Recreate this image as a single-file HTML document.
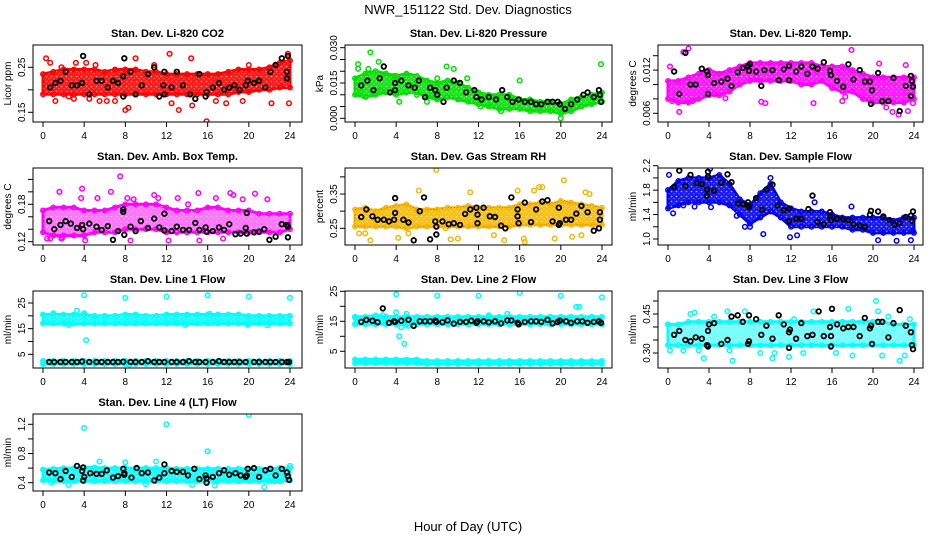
<!DOCTYPE html>
<html><head><meta charset="utf-8">
<style>
html,body{margin:0;padding:0;background:#fff;}
svg{display:block;font-family:"Liberation Sans",Arial,sans-serif;}
</style></head>
<body>
<svg id="chart" width="936" height="540" viewBox="0 0 936 540" xmlns="http://www.w3.org/2000/svg">
<defs>
<pattern id="speckle" width="5" height="5" patternUnits="userSpaceOnUse">
<circle cx="1.5" cy="1.5" r="0.8" fill="#fff" fill-opacity="0.7"/>
<circle cx="4" cy="3.8" r="0.6" fill="#fff" fill-opacity="0.5"/>
</pattern>
</defs>
<rect x="0" y="0" width="936" height="540" fill="#fff"/>
<text x="468" y="14" text-anchor="middle" font-size="13">NWR_151122  Std. Dev. Diagnostics</text>
<text x="468" y="531" text-anchor="middle" font-size="13">Hour of Day (UTC)</text>
</svg>
<script>
// ---------- data ----------
const hours = [0,1,2,3,4,5,6,7,8,9,10,11,12,13,14,15,16,17,18,19,20,21,22,23,24];
const xTicks = [0,4,8,12,16,20,24];

const co2Lo = [0.19,0.19,0.19,0.19,0.19,0.19,0.19,0.19,0.19,0.19,0.19,0.19,0.19,0.19,0.19,0.19,0.19,0.19,0.19,0.195,0.195,0.2,0.2,0.205,0.205];
const co2Hi = [0.235,0.24,0.245,0.245,0.245,0.245,0.24,0.245,0.245,0.245,0.24,0.24,0.235,0.235,0.235,0.235,0.235,0.235,0.24,0.245,0.245,0.245,0.25,0.26,0.265];
const co2Pts = [[0.3,0.27],[0.7,0.26],[1.2,0.175],[2.5,0.185],[3.2,0.26],[4.2,0.26],[4.5,0.18],[5.5,0.175],[6.2,0.175],[7,0.175],[8,0.155],[8.3,0.16],[9,0.27],[12.3,0.28],[12.5,0.17],[13.2,0.155],[14.4,0.27],[14.5,0.165],[15.9,0.13],[17.8,0.17],[19.4,0.175],[22.2,0.17],[23.8,0.28],[23.9,0.17],[10.8,0.255],[20,0.255],[5.1,0.255],[1.8,0.25],[16.8,0.175],[3,0.18]];
const co2Blk = [[0.7,0.205],[1.2,0.215],[1.7,0.22],[2.2,0.24],[2.8,0.21],[3.3,0.21],[3.8,0.215],[3.9,0.275],[4.5,0.19],[5.2,0.22],[5.7,0.22],[6.3,0.205],[6.8,0.22],[7.3,0.215],[7.8,0.23],[7.8,0.185],[7.9,0.27],[8.5,0.24],[9,0.19],[9.6,0.21],[10.2,0.235],[10.8,0.25],[11.3,0.185],[11.7,0.21],[11.8,0.24],[11.8,0.19],[12.5,0.205],[13,0.24],[13.6,0.21],[14.3,0.19],[14.8,0.18],[15.2,0.235],[15.8,0.185],[15.9,0.195],[16.5,0.205],[17.1,0.215],[17.6,0.2],[18.1,0.205],[18.6,0.21],[19.1,0.2],[19.7,0.21],[19.9,0.22],[20.5,0.215],[21,0.22],[21.6,0.205],[22.1,0.24],[22.6,0.255],[23.2,0.27],[23.7,0.24],[23.8,0.275],[23.7,0.225]];

const presLo = [0.010,0.009,0.010,0.011,0.010,0.011,0.011,0.009,0.008,0.009,0.008,0.007,0.006,0.005,0.004,0.004,0.004,0.003,0.003,0.003,0.002,0.003,0.005,0.006,0.007];
const presHi = [0.017,0.019,0.020,0.019,0.018,0.019,0.018,0.016,0.015,0.016,0.015,0.013,0.011,0.010,0.010,0.010,0.008,0.008,0.007,0.007,0.006,0.008,0.009,0.010,0.011];
const presPts = [[0.3,0.023],[0.3,0.021],[1.3,0.021],[1.5,0.028],[2.3,0.024],[3.8,0.018],[4,0.011],[4.3,0.007],[7.5,0.010],[7,0.007],[8,0.017],[8.9,0.022],[9.6,0.021],[10.9,0.017],[16,0.016],[20,0.0],[20.5,0.004],[23.9,0.023],[12.2,0.005],[14.2,0.003],[2.5,0.012],[6,0.010],[0.5,0.011]];
const presBlk = [[0.6,0.014],[1.2,0.016],[1.8,0.012],[2.4,0.017],[2.8,0.022],[3.4,0.011],[3.9,0.015],[3.9,0.012],[4.5,0.016],[5.2,0.014],[5.8,0.013],[6.2,0.016],[6.8,0.009],[7.3,0.013],[7.8,0.012],[8,0.010],[8.6,0.007],[8.9,0.013],[9.6,0.016],[10.2,0.015],[10.8,0.011],[11.6,0.012],[11.8,0.009],[12.3,0.008],[13,0.009],[13.7,0.008],[14.3,0.012],[14.8,0.009],[15.3,0.007],[15.9,0.008],[16.5,0.007],[17.1,0.007],[17.6,0.006],[18.1,0.006],[18.7,0.007],[19.2,0.007],[19.7,0.007],[19.9,0.006],[20.4,0.004],[21,0.006],[21.6,0.008],[22.2,0.010],[22.6,0.011],[23.2,0.009],[23.7,0.012],[23.8,0.010],[23.9,0.007]];

const tempLo = [0.008,0.0075,0.0075,0.008,0.0085,0.0085,0.009,0.010,0.0105,0.0105,0.0105,0.0105,0.0105,0.010,0.010,0.0105,0.0095,0.009,0.009,0.008,0.0075,0.0075,0.0075,0.0075,0.008];
const tempHi = [0.0105,0.0105,0.011,0.0115,0.012,0.0115,0.012,0.0125,0.013,0.013,0.013,0.013,0.013,0.013,0.013,0.0125,0.0125,0.0125,0.012,0.0115,0.011,0.011,0.011,0.011,0.011];
const tempPts = [[0.2,0.0125],[0.4,0.0077],[1.1,0.0062],[1.5,0.0145],[2,0.015],[2.4,0.0077],[4.5,0.0087],[5.6,0.0081],[8.6,0.011],[9.1,0.0076],[9.5,0.0074],[14.5,0.0118],[14.2,0.0074],[17,0.0077],[17.3,0.0083],[17.9,0.0148],[19.6,0.0079],[21.3,0.0068],[21.9,0.0062],[22.5,0.0058],[23.4,0.0063],[23.9,0.0074],[20.6,0.0129],[23.2,0.0127]];
const tempBlk = [[0.6,0.0118],[1.1,0.0087],[1.7,0.0144],[2.2,0.0100],[2.7,0.0100],[3.3,0.0122],[3.8,0.0118],[3.9,0.0087],[3.9,0.0113],[4.5,0.0102],[5.2,0.0104],[5.8,0.0108],[6.2,0.0098],[6.8,0.0117],[7.3,0.0123],[7.8,0.0126],[7.9,0.0119],[8,0.0128],[8.6,0.0118],[9.1,0.0098],[9.4,0.0120],[10.2,0.0120],[10.8,0.0106],[11.3,0.0121],[11.8,0.0126],[11.8,0.0106],[12.5,0.0118],[13,0.0125],[13.6,0.0115],[14.1,0.0125],[14.6,0.0122],[15.2,0.0131],[15.8,0.0119],[15.9,0.0113],[16.5,0.0105],[17.1,0.0097],[17.6,0.0128],[18.1,0.0107],[18.7,0.0120],[19.2,0.0104],[19.7,0.0104],[19.9,0.0092],[19.8,0.0073],[20.5,0.0116],[20.9,0.0077],[21.5,0.0077],[22,0.0109],[22.6,0.0063],[23.2,0.0098],[23.7,0.0112],[23.8,0.0105],[23.9,0.0097],[23.7,0.0084]];

const ambLo = [0.135,0.13,0.13,0.13,0.13,0.135,0.135,0.135,0.14,0.14,0.14,0.14,0.135,0.135,0.135,0.135,0.135,0.135,0.135,0.135,0.135,0.135,0.135,0.135,0.14];
const ambHi = [0.17,0.175,0.175,0.175,0.17,0.17,0.17,0.175,0.18,0.18,0.18,0.18,0.175,0.17,0.17,0.17,0.175,0.175,0.17,0.17,0.17,0.165,0.165,0.165,0.165];
const ambPts = [[0.4,0.125],[0.7,0.125],[1.6,0.2],[1.8,0.125],[3.8,0.205],[3.7,0.19],[4.1,0.122],[5.3,0.19],[6.6,0.2],[7.5,0.225],[8.2,0.19],[8.5,0.122],[8.8,0.188],[10.8,0.195],[11.2,0.19],[12.2,0.122],[13.1,0.19],[15.1,0.198],[15.2,0.122],[16.8,0.19],[18.2,0.198],[18.5,0.195],[19.4,0.188],[20.6,0.197],[21.8,0.188],[17.5,0.125],[1.9,0.127],[14.1,0.18]];
const ambBlk = [[0.6,0.153],[1.1,0.14],[1.7,0.147],[2.2,0.153],[2.7,0.149],[3.3,0.142],[3.8,0.147],[3.9,0.14],[4.5,0.149],[5.2,0.144],[5.7,0.139],[6.3,0.145],[6.8,0.123],[7.3,0.137],[7.8,0.168],[7.8,0.172],[7.9,0.131],[8.5,0.144],[9,0.137],[9.5,0.153],[10.2,0.142],[10.8,0.157],[11.3,0.143],[11.8,0.165],[11.8,0.138],[12.5,0.137],[13,0.144],[13.6,0.139],[14.2,0.139],[14.8,0.15],[15.2,0.139],[15.8,0.143],[15.9,0.136],[16.5,0.137],[17.1,0.143],[17.6,0.139],[18.1,0.148],[18.7,0.132],[19.2,0.133],[19.7,0.142],[19.8,0.133],[19.8,0.166],[20.5,0.135],[21,0.136],[21.5,0.14],[22,0.123],[22.6,0.128],[23.2,0.148],[23.7,0.147],[23.8,0.144],[23.8,0.127]];

const rhLo = [0.255,0.255,0.255,0.255,0.255,0.25,0.255,0.255,0.255,0.255,0.255,0.255,0.255,0.255,0.255,0.255,0.26,0.26,0.26,0.26,0.26,0.26,0.26,0.26,0.26];
const rhHi = [0.305,0.31,0.3,0.31,0.315,0.32,0.305,0.305,0.305,0.31,0.31,0.315,0.31,0.31,0.31,0.31,0.32,0.32,0.325,0.32,0.33,0.325,0.32,0.315,0.31];
const rhPts = [[0.4,0.235],[1,0.235],[1.5,0.215],[4.2,0.222],[5.2,0.235],[6.2,0.36],[7.9,0.42],[8.8,0.25],[9.3,0.218],[10,0.22],[11.2,0.355],[13.5,0.23],[14.5,0.215],[15.8,0.36],[16.4,0.22],[16.5,0.21],[17.4,0.36],[17.9,0.37],[18.2,0.37],[19.4,0.22],[20.3,0.39],[21.1,0.225],[22,0.23],[22.4,0.355],[22.8,0.35]];
const rhBlk = [[0.6,0.283],[1.1,0.305],[1.7,0.285],[2.2,0.275],[2.8,0.275],[3.3,0.27],[3.8,0.275],[3.9,0.338],[3.9,0.295],[4.7,0.275],[5.2,0.267],[5.7,0.215],[6.3,0.3],[6.7,0.34],[7.3,0.218],[7.8,0.27],[7.9,0.255],[7.9,0.232],[8.5,0.27],[9.1,0.262],[9.6,0.265],[10.2,0.26],[10.7,0.292],[11.2,0.305],[11.8,0.31],[11.9,0.265],[11.9,0.29],[12.5,0.31],[13.1,0.285],[13.6,0.283],[14.2,0.258],[14.6,0.25],[15.2,0.34],[15.8,0.305],[15.8,0.285],[15.9,0.265],[16.5,0.325],[17.1,0.268],[17.6,0.305],[18.2,0.328],[18.7,0.332],[19.2,0.27],[19.8,0.31],[19.8,0.26],[19.9,0.265],[20.5,0.275],[21,0.275],[21.5,0.293],[22,0.315],[22.6,0.297],[23.2,0.243],[23.7,0.25],[23.8,0.297],[23.8,0.275]];

const sfLo = [1.5,1.55,1.6,1.6,1.6,1.6,1.55,1.4,1.25,1.35,1.45,1.35,1.2,1.2,1.2,1.2,1.2,1.2,1.15,1.15,1.1,1.1,1.1,1.1,1.1];
const sfHi = [1.8,1.95,2.0,2.0,2.0,2.05,1.9,1.65,1.55,1.75,1.9,1.6,1.5,1.45,1.45,1.45,1.4,1.35,1.35,1.35,1.35,1.35,1.3,1.35,1.35];
const sfPts = [[0.1,2.05],[0.5,1.42],[2.6,1.53],[4.1,2.15],[5.3,2.2],[4.2,1.52],[7.5,1.2],[8,1.2],[9.3,1.08],[10,2.0],[11.9,1.03],[12.6,1.06],[17.9,1.53],[20.5,0.98],[22.3,0.97],[23.7,0.98],[23.9,1.13],[6.7,1.38],[14.3,1.6],[1.5,1.55]];
const sfBlk = [[0.6,1.85],[1.1,2.12],[1.7,1.87],[2.2,2.05],[2.8,1.91],[3.3,1.9],[3.8,1.71],[3.8,1.81],[3.9,2.02],[3.9,2.1],[4.5,1.79],[5.2,1.92],[5.8,2.06],[6.2,1.93],[6.8,1.58],[7.3,1.57],[7.8,1.55],[7.8,1.6],[7.9,1.52],[8.6,1.67],[9.2,1.48],[9.6,1.81],[10.2,1.89],[10.7,1.55],[11.3,1.47],[11.8,1.5],[11.8,1.29],[12.5,1.33],[13,1.33],[13.7,1.49],[14.1,1.71],[14.6,1.28],[15.2,1.24],[15.8,1.44],[15.8,1.37],[15.9,1.31],[16.5,1.33],[17.1,1.32],[17.6,1.31],[18.1,1.24],[18.7,1.22],[19.2,1.2],[19.7,1.4],[19.8,1.46],[20.5,1.45],[21,1.37],[21.6,1.31],[22.1,1.23],[22.6,1.26],[23.2,1.36],[23.7,1.38],[23.8,1.3],[23.9,1.45]];

const l1Lo = [17,17,17,17,17,17,17,17,17,17,17,17,17,17,17,17,17,17,17,17,17,17,17,17,17];
const l1Hi = [20.5,20.5,20.5,20.5,20.5,20,20,20,20.5,20.5,20,20,20.5,20.5,20.5,20.5,20.5,20.5,20.5,20.5,20,20,20,20,20];
const l1Lo2 = [1.2,1.2,1.2,1.2,1.2,1.2,1.2,1.2,1.2,1.2,1.2,1.2,1.2,1.2,1.2,1.2,1.2,1.2,1.2,1.2,1.2,1.2,1.2,1.2,1.2];
const l1Hi2 = [2.4,2.4,2.4,2.4,2.4,2.4,2.4,2.4,2.4,2.4,2.4,2.4,2.4,2.4,2.4,2.4,2.4,2.4,2.4,2.4,2.4,2.4,2.4,2.4,2.4];
const l1Pts = [[0.1,1.5],[4,28],[8,27],[12,27.5],[16,28],[20,27.5],[24,27],[4.2,10.5],[3.3,22],[4,21],[8.4,1],[2.5,16.5],[13.8,16.5],[19.9,16.5],[21.8,16.3],[1,21],[16.2,20.8]];
const l1Blk = [[0.6,2],[1.1,2],[1.7,2],[2.2,2],[2.8,2],[3.3,2],[3.8,2.2],[4.5,2],[5.2,2],[5.7,2],[6.3,2],[6.8,2],[7.3,2],[7.8,2.1],[8.5,2],[9,2],[9.6,2],[10.2,2.3],[10.8,2],[11.3,2],[11.8,2],[12.5,2],[13,2],[13.6,2],[14.2,2.3],[14.8,2],[15.2,2],[15.8,2],[16.5,2],[17.1,2.3],[17.6,2],[18.1,2],[18.6,2],[19.1,2],[19.7,2],[20.5,2],[21,2],[21.6,2],[22.1,2],[22.6,2],[23.2,2],[23.7,2],[23.9,2]];

const l2Lo = [14,14,14,14,14,14,14,14,14,14,14,14,14,14,14,14,14,14,14,14,14,14,14,14,14];
const l2Hi = [16.5,16.5,17,16.5,16.5,16.5,16.5,16.5,16.5,16.5,16.5,16.5,16.5,16.5,16.5,16.5,16.5,16.5,16.5,16.5,16.5,16.5,16.5,16.5,16.5];
const l2Lo2 = [1,1,1,1,1,1,1,0.8,0.8,0.8,0.8,0.8,0.8,0.8,0.8,0.8,0.8,0.8,0.8,0.8,0.8,0.8,0.8,0.8,0.8];
const l2Hi2 = [2.3,2.3,2.3,2.3,2.3,2.3,2.3,1.8,1.8,1.8,1.8,1.8,1.8,1.8,1.8,1.8,1.8,1.8,1.8,1.8,1.8,1.8,1.8,1.8,1.8];
const l2Pts = [[0,16.3],[2.7,17],[4,24],[4,18],[4.3,10],[4.5,13],[4.8,7.5],[5,17.5],[5.2,13.5],[8,23.5],[12,23.5],[16,24.5],[20,23.5],[21.5,19.8],[21.8,19.8],[24,23],[14.8,17.5],[13,17]];
const l2Blk = [[0.6,14.8],[1.1,15.5],[1.7,15.2],[2.2,14.7],[2.7,19.3],[3.3,14.5],[3.8,15],[3.9,14.8],[4.5,15.2],[5.2,15.5],[5.7,13.5],[6.3,15],[6.8,15],[7.3,15],[7.8,15.2],[7.9,14.8],[8.5,14.7],[9,15.3],[9.6,14.2],[10.2,14.8],[10.8,14.8],[11.3,15.2],[11.8,14.5],[11.9,15],[12.5,15],[13,14.7],[13.6,15],[14.2,14.3],[14.8,15.3],[15.2,15.3],[15.8,14.5],[15.9,14],[16.5,14.8],[17.1,15],[17.6,15],[18.1,14.8],[18.7,15.5],[19.2,14.3],[19.7,14.8],[19.9,15.2],[20.5,15],[21,14.5],[21.6,15],[22.1,15],[22.6,14.5],[23.2,14.8],[23.7,15],[23.9,14.5]];

const l3Lo = [0.33,0.33,0.33,0.33,0.33,0.33,0.33,0.33,0.33,0.33,0.33,0.33,0.33,0.33,0.33,0.33,0.33,0.33,0.33,0.33,0.33,0.33,0.33,0.33,0.33];
const l3Hi = [0.41,0.41,0.42,0.42,0.42,0.42,0.42,0.42,0.42,0.42,0.42,0.42,0.42,0.42,0.42,0.42,0.42,0.42,0.42,0.42,0.42,0.42,0.41,0.41,0.41];
const l3Pts = [[0,0.41],[0.2,0.31],[1.5,0.31],[2.2,0.45],[2.6,0.455],[3,0.31],[3.5,0.28],[4.5,0.44],[5.8,0.46],[6,0.31],[6.3,0.27],[7.5,0.46],[9,0.3],[10.2,0.28],[10.4,0.3],[11.8,0.285],[12.3,0.43],[13.2,0.3],[14.2,0.46],[16.4,0.3],[17.6,0.47],[18,0.29],[20.3,0.5],[20.5,0.46],[20.9,0.29],[22.6,0.27],[23.1,0.29],[23.6,0.43],[21.5,0.44]];
const l3Blk = [[0.6,0.37],[1.1,0.385],[1.7,0.35],[2.2,0.345],[2.7,0.36],[3.3,0.355],[3.8,0.33],[3.9,0.385],[3.9,0.325],[4,0.41],[4.5,0.415],[5.2,0.335],[5.8,0.35],[6.2,0.44],[6.8,0.445],[7.3,0.42],[7.8,0.335],[7.9,0.445],[7.9,0.345],[8.6,0.43],[9.1,0.37],[9.6,0.405],[10.2,0.355],[10.8,0.445],[11.3,0.41],[11.8,0.38],[11.8,0.32],[11.9,0.39],[12.5,0.355],[13,0.415],[13.6,0.365],[14.1,0.37],[14.7,0.46],[15.2,0.365],[15.8,0.4],[15.9,0.365],[15.9,0.325],[16,0.47],[16.5,0.41],[17.1,0.395],[17.6,0.4],[18.1,0.4],[18.7,0.365],[19.2,0.435],[19.7,0.395],[19.8,0.405],[19.9,0.335],[20.5,0.42],[20.9,0.42],[21.5,0.36],[22,0.415],[22.6,0.465],[23.2,0.405],[23.7,0.38],[23.8,0.33],[23.9,0.315]];

const l4Lo = [0.43,0.42,0.42,0.42,0.42,0.42,0.42,0.42,0.42,0.42,0.42,0.42,0.42,0.42,0.42,0.42,0.42,0.42,0.42,0.42,0.42,0.42,0.42,0.42,0.43];
const l4Hi = [0.58,0.59,0.6,0.6,0.61,0.61,0.6,0.6,0.6,0.6,0.6,0.6,0.6,0.59,0.59,0.59,0.59,0.59,0.59,0.59,0.59,0.59,0.59,0.6,0.6];
const l4Pts = [[4,1.15],[12,1.2],[20,1.33],[16,0.83],[5.5,0.69],[11,0.69],[8,0.68],[2.5,0.37],[10,0.38],[14.5,0.37],[16.7,0.36],[21.5,0.34],[0.8,0.4],[24,0.63],[22.5,0.42]];
const l4Blk = [[0.6,0.54],[1.2,0.53],[1.7,0.45],[2.2,0.56],[2.8,0.48],[3.3,0.63],[3.8,0.56],[3.9,0.43],[3.9,0.61],[4,0.48],[4.6,0.53],[5.2,0.52],[5.7,0.52],[6.2,0.57],[6.8,0.47],[7.3,0.49],[7.8,0.59],[7.9,0.51],[7.9,0.53],[8.6,0.47],[9.1,0.6],[9.6,0.53],[10.2,0.54],[10.8,0.43],[11.3,0.47],[11.8,0.65],[11.8,0.53],[12.5,0.56],[13,0.55],[13.6,0.55],[14.1,0.5],[14.7,0.59],[15.2,0.45],[15.8,0.5],[15.9,0.4],[15.9,0.46],[16.5,0.48],[17.1,0.53],[17.6,0.57],[18.1,0.51],[18.7,0.53],[19.2,0.5],[19.7,0.48],[19.8,0.5],[19.9,0.59],[20.5,0.6],[21,0.48],[21.6,0.57],[22.1,0.59],[22.6,0.5],[23.2,0.59],[23.7,0.54],[23.8,0.49],[23.9,0.44]];

// tick values / labels
const co2Ticks=[0.15,0.20,0.25], co2Labels=['0.15','','0.25'];
const presTicks=[0,0.005,0.010,0.015,0.020,0.025,0.030], presLabels=['0.000','','','0.015','','','0.030'];
const tempTicks=[0.006,0.008,0.010,0.012,0.014], tempLabels=['0.006','','','0.012',''];
const ambTicks=[0.12,0.14,0.16,0.18,0.20,0.22], ambLabels=['0.12','','','0.18','',''];
const rhTicks=[0.25,0.30,0.35,0.40], rhLabels=['0.25','','0.35',''];
const sfTicks=[1.0,1.2,1.4,1.6,1.8,2.0,2.2], sfLabels=['1.0','','1.4','','1.8','','2.2'];
const l1Ticks=[5,10,15,20,25], l1Labels=['5','','15','','25'];
const l2Ticks=[5,10,15,20,25], l2Labels=['5','','15','','25'];
const l3Ticks=[0.30,0.35,0.40,0.45,0.50], l3Labels=['0.30','','','0.45',''];
const l4Ticks=[0.4,0.6,0.8,1.0,1.2], l4Labels=['0.4','','0.8','','1.2'];

// ---------- layout ----------
const NS='http://www.w3.org/2000/svg';
const svg=document.getElementById('chart');
const cols=[{bl:33,br:302,x0:43,x24:290},{bl:345,br:612,x0:355,x24:602},{bl:658,br:923,x0:668,x24:914}];
const panels=[
 {key:'co2',title:'Stan. Dev. Li-820 CO2',ylab:'Licor ppm',col:'#ff0000',c:0,r:0,v0:0.15,p0:112.3,v1:0.25,p1:67.3,lo:co2Lo,hi:co2Hi,pts:co2Pts,blk:co2Blk,ticks:co2Ticks,labels:co2Labels},
 {key:'pressure',title:'Stan. Dev. Li-820 Pressure',ylab:'kPa',col:'#00e000',c:1,r:0,v0:0,p0:118.3,v1:0.03,p1:47.7,lo:presLo,hi:presHi,pts:presPts,blk:presBlk,ticks:presTicks,labels:presLabels},
 {key:'temp',title:'Stan. Dev. Li-820 Temp.',ylab:'degrees C',col:'#ff00ff',c:2,r:0,v0:0.006,p0:113.3,v1:0.014,p1:55.7,lo:tempLo,hi:tempHi,pts:tempPts,blk:tempBlk,ticks:tempTicks,labels:tempLabels},
 {key:'ambbox',title:'Stan. Dev. Amb. Box Temp.',ylab:'degrees C',col:'#ff00ff',c:0,r:1,v0:0.12,p0:241.7,v1:0.18,p1:204.3,lo:ambLo,hi:ambHi,pts:ambPts,blk:ambBlk,ticks:ambTicks,labels:ambLabels,sparse:true},
 {key:'rh',title:'Stan. Dev. Gas Stream RH',ylab:'percent',col:'#f5b800',col2:'#ff3000',c:1,r:1,v0:0.25,p0:228.3,v1:0.35,p1:194,lo:rhLo,hi:rhHi,pts:rhPts,blk:rhBlk,ticks:rhTicks,labels:rhLabels},
 {key:'sampleflow',title:'Stan. Dev. Sample Flow',ylab:'ml/min',col:'#0000ee',c:2,r:1,v0:1.0,p0:239,v1:2.2,p1:165.7,lo:sfLo,hi:sfHi,pts:sfPts,blk:sfBlk,ticks:sfTicks,labels:sfLabels},
 {key:'line1',title:'Stan. Dev. Line 1 Flow',ylab:'ml/min',col:'#00ffff',c:0,r:2,v0:5,p0:354.3,v1:25,p1:303,lo:l1Lo,hi:l1Hi,lo2:l1Lo2,hi2:l1Hi2,pts:l1Pts,blk:l1Blk,ticks:l1Ticks,labels:l1Labels},
 {key:'line2',title:'Stan. Dev. Line 2 Flow',ylab:'ml/min',col:'#00ffff',c:1,r:2,v0:5,p0:351.3,v1:25,p1:291.3,lo:l2Lo,hi:l2Hi,lo2:l2Lo2,hi2:l2Hi2,pts:l2Pts,blk:l2Blk,ticks:l2Ticks,labels:l2Labels},
 {key:'line3',title:'Stan. Dev. Line 3 Flow',ylab:'ml/min',col:'#00ffff',c:2,r:2,v0:0.30,p0:353,v1:0.45,p1:314,lo:l3Lo,hi:l3Hi,pts:l3Pts,blk:l3Blk,ticks:l3Ticks,labels:l3Labels,sparse:true},
 {key:'line4',title:'Stan. Dev. Line 4 (LT) Flow',ylab:'ml/min',col:'#00ffff',c:0,r:3,v0:0.4,p0:482.7,v1:1.2,p1:424.3,lo:l4Lo,hi:l4Hi,pts:l4Pts,blk:l4Blk,ticks:l4Ticks,labels:l4Labels}
];

function mk(tag,attrs,parent){const e=document.createElementNS(NS,tag);for(const k in attrs)e.setAttribute(k,attrs[k]);(parent||svg).appendChild(e);return e;}

panels.forEach((p,idx)=>{
  const C=cols[p.c], top=45+123*p.r, bot=122+123*p.r;
  const xs=h=>C.x0+(h/24)*(C.x24-C.x0);
  const ys=v=>p.p0+(v-p.v0)*(p.p1-p.p0)/(p.v1-p.v0);
  const g=mk('g',{});
  
  
  const cp=mk('clipPath',{id:'clip'+idx},g);
  mk('rect',{x:C.bl,y:top,width:C.br-C.bl,height:bot-top},cp);
  const plot=mk('g',{'clip-path':'url(#clip'+idx+')'},g);
  
  
  function band(lo,hi,name){
    let d='M'+hours.map((h,i)=>xs(h).toFixed(1)+','+ys(hi[i]).toFixed(1)).join('L');
    d+='L'+hours.slice().reverse().map((h,j)=>{const i=hours.length-1-j;return xs(h).toFixed(1)+','+ys(lo[i]).toFixed(1);}).join('L')+'Z';
    const b=mk('path',{d:d,fill:p.col,stroke:p.col,'stroke-width':3,'stroke-linejoin':'round','fill-opacity':p.sparse?0.55:0.9},plot);
    
    
    const sp=mk('path',{d:d,fill:'url(#speckle)',stroke:'none'},plot);
    
    
    if(p.col2){
      const s=mk('path',{d:d,fill:'none',stroke:p.col2,'stroke-width':0.6,'stroke-dasharray':'1 2'},plot);
      
      
    }
    hours.forEach((h,i)=>{
      [lo[i],hi[i]].forEach(v=>{
        const c=mk('circle',{cx:xs(h).toFixed(1),cy:ys(v).toFixed(1),r:2.3,fill:'none',stroke:p.col,'stroke-width':1.3},plot);
        
        
      });
    });
  }
  band(p.lo,p.hi,'point-cloud-'+p.key);
  if(p.lo2) band(p.lo2,p.hi2,'point-cloud-low-'+p.key);
  p.pts.forEach(pt=>{
    const c=mk('circle',{cx:xs(pt[0]).toFixed(1),cy:ys(pt[1]).toFixed(1),r:2.3,fill:'none',stroke:p.col,'stroke-width':1.5},plot);
    
    
  });
  p.blk.forEach(pt=>{
    const c=mk('circle',{cx:xs(pt[0]).toFixed(1),cy:ys(pt[1]).toFixed(1),r:2.3,fill:'none',stroke:'#000','stroke-width':1.8},plot);
    
    
  });
  const box=mk('rect',{x:C.bl,y:top,width:C.br-C.bl,height:bot-top,fill:'none',stroke:'#000','stroke-width':1},g);
  
  
  const xa=mk('g',{},g);
  
  
  mk('line',{x1:xs(0),x2:xs(24),y1:bot,y2:bot,stroke:'#000'},xa);
  xTicks.forEach(t=>{
    mk('line',{x1:xs(t),x2:xs(t),y1:bot,y2:bot+5,stroke:'#000'},xa);
    const tx=mk('text',{x:xs(t),y:bot+17,'text-anchor':'middle','font-size':10},xa);
    tx.textContent=t;
    
    
  });
  const ya=mk('g',{},g);
  
  
  mk('line',{x1:C.bl,x2:C.bl,y1:ys(p.ticks[0]),y2:ys(p.ticks[p.ticks.length-1]),stroke:'#000'},ya);
  p.ticks.forEach((t,i)=>{
    const y=ys(t);
    mk('line',{x1:C.bl-5,x2:C.bl,y1:y,y2:y,stroke:'#000'},ya);
    if(p.labels[i]){
      const tx=mk('text',{x:0,y:0,transform:'translate('+(C.bl-8)+','+y.toFixed(1)+') rotate(-90)','text-anchor':'middle','font-size':10},ya);
      tx.textContent=p.labels[i];
      
      
    }
  });
  const yl=mk('text',{x:0,y:0,transform:'translate('+(C.bl-22)+','+((top+bot)/2)+') rotate(-90)','text-anchor':'middle','font-size':10},g);
  yl.textContent=p.ylab;
  
  
  const tt=mk('text',{x:(C.bl+C.br)/2,y:top-8,'text-anchor':'middle','font-size':11,'font-weight':'bold'},g);
  tt.textContent=p.title;
  
  
});
</script>
</body></html>
